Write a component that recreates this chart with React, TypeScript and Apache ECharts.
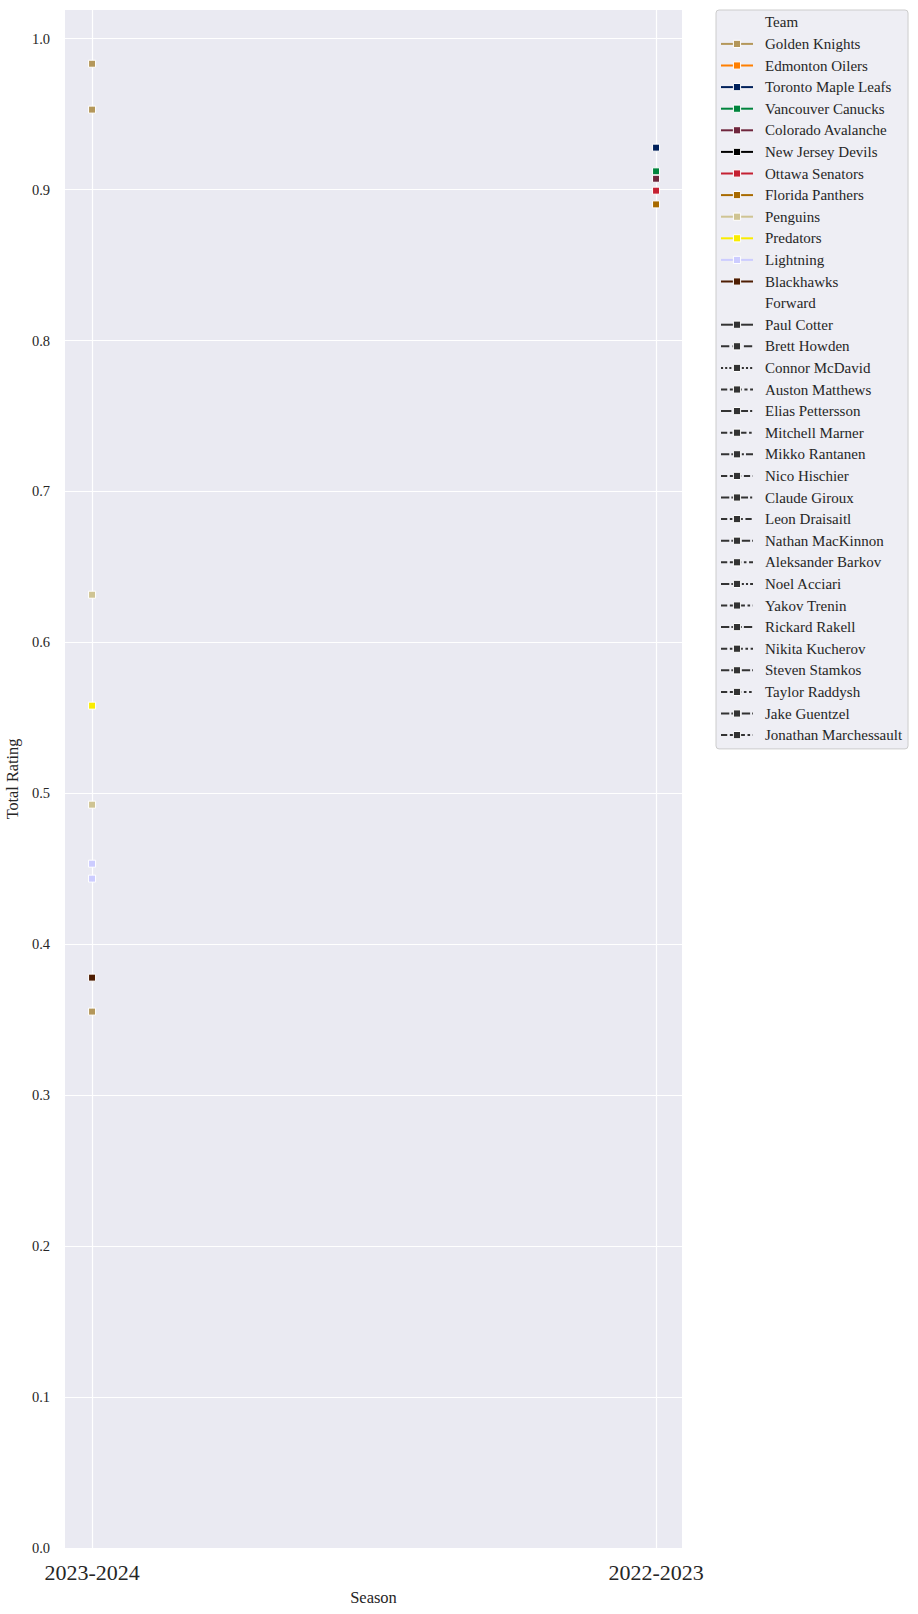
import React, { useEffect, useRef } from 'react';
import * as echarts from 'echarts';

const SEASONS = ['2023-2024', '2022-2023'];

const TEAMS = [
  'Golden Knights',
  'Edmonton Oilers',
  'Toronto Maple Leafs',
  'Vancouver Canucks',
  'Colorado Avalanche',
  'New Jersey Devils',
  'Ottawa Senators',
  'Florida Panthers',
  'Penguins',
  'Predators',
  'Lightning',
  'Blackhawks',
];

const TEAM_COLORS = [
  '#B4975A',
  '#FF7F00',
  '#00205B',
  '#00843D',
  '#6F263D',
  '#000000',
  '#C52032',
  '#A86A00',
  '#CFC493',
  '#F9EC00',
  '#CCCCFF',
  '#4E1D02',
];

const FORWARDS = [
  'Paul Cotter',
  'Brett Howden',
  'Connor McDavid',
  'Auston Matthews',
  'Elias Pettersson',
  'Mitchell Marner',
  'Mikko Rantanen',
  'Nico Hischier',
  'Claude Giroux',
  'Leon Draisaitl',
  'Nathan MacKinnon',
  'Aleksander Barkov',
  'Noel Acciari',
  'Yakov Trenin',
  'Rickard Rakell',
  'Nikita Kucherov',
  'Steven Stamkos',
  'Taylor Raddysh',
  'Jake Guentzel',
  'Jonathan Marchessault',
];

// dash patterns in line-width units (empty = solid)
const FORWARD_DASHES: number[][] = [
  [],
  [4, 1.5],
  [1, 1],
  [3, 1.25, 1.5, 1.25],
  [5, 1, 1, 1],
  [3, 1.25, 1.25, 1.25, 1.25, 1.25],
  [4, 1, 4, 1, 1, 1],
  [3, 1.25, 3, 1.25, 1.25, 1.25],
  [4, 1, 1, 1, 1, 1],
  [3, 1.25, 1.25, 1.25, 1.25, 1.25, 1.25, 1.25],
  [4, 1, 4, 1, 4, 1, 1, 1],
  [3, 1.25, 3, 1.25, 1.25, 1.25, 1.25, 1.25],
  [4, 1, 4, 1, 1, 1, 1, 1],
  [3, 1.25, 3, 1.25, 3, 1.25, 1.25, 1.25],
  [4, 1, 1, 1, 1, 1, 1, 1],
  [3, 1.25, 1.25, 1.25, 1.25, 1.25, 1.25, 1.25, 1.25, 1.25],
  [4, 1, 4, 1, 4, 1, 4, 1, 1, 1],
  [3, 1.25, 3, 1.25, 1.25, 1.25, 1.25, 1.25, 1.25, 1.25],
  [4, 1, 4, 1, 4, 1, 1, 1, 1, 1],
  [3, 1.25, 3, 1.25, 3, 1.25, 1.25, 1.25, 1.25, 1.25],
];

const POINT_FORWARD = [
  'Paul Cotter',
  'Brett Howden',
  'Jonathan Marchessault',
  'Auston Matthews',
  'Elias Pettersson',
  'Mikko Rantanen',
  'Claude Giroux',
  'Aleksander Barkov',
  'Noel Acciari',
  'Yakov Trenin',
  'Rickard Rakell',
  'Nikita Kucherov',
  'Steven Stamkos',
  'Taylor Raddysh',
];
const POINT_TEAM = [
  'Golden Knights',
  'Golden Knights',
  'Golden Knights',
  'Toronto Maple Leafs',
  'Vancouver Canucks',
  'Colorado Avalanche',
  'Ottawa Senators',
  'Florida Panthers',
  'Penguins',
  'Predators',
  'Penguins',
  'Lightning',
  'Lightning',
  'Blackhawks',
];
const POINT_SEASON = [
  '2023-2024',
  '2023-2024',
  '2023-2024',
  '2022-2023',
  '2022-2023',
  '2022-2023',
  '2022-2023',
  '2022-2023',
  '2023-2024',
  '2023-2024',
  '2023-2024',
  '2023-2024',
  '2023-2024',
  '2023-2024',
];
const POINT_RATING = [
  0.9834, 0.953, 0.3554, 0.9278, 0.9121, 0.9072, 0.8993, 0.8902, 0.6316, 0.5581, 0.4925, 0.4534,
  0.4435, 0.3779,
];

const Y_TICKS = [0, 0.1, 0.2, 0.3, 0.4, 0.5, 0.6, 0.7, 0.8, 0.9, 1.0];

export default function App() {
  const ref = useRef<HTMLDivElement>(null);

  useEffect(() => {
    document.body.style.margin = '0';
    const chart = echarts.init(ref.current!, null, { renderer: 'svg' });
    const FONT = "'Liberation Serif', 'Times New Roman', serif";
    const TEXT = '#262626';
    const DASH_UNIT = 2.08;
    const GRAY = '#333333';

    const dashOf = (d: number[]) => (d.length ? d.map((v) => v * DASH_UNIT) : 'solid');

    const teamSeries = TEAMS.map((team, ti) => ({
      name: team,
      type: 'line',
      data: POINT_RATING.map((r, i) =>
        POINT_TEAM[i] === team ? [SEASONS.indexOf(POINT_SEASON[i]), r, POINT_FORWARD[i]] : null
      ).filter((p) => p !== null),
      symbol: 'rect',
      symbolSize: 7,
      showSymbol: true,
      showAllSymbol: true,
      itemStyle: { color: TEAM_COLORS[ti], borderColor: '#ffffff', borderWidth: 1 },
      lineStyle: { color: TEAM_COLORS[ti], width: 2, opacity: 0 },
      emphasis: { disabled: true },
      silent: true,
      z: 3,
    }));

    const headerSeries = ['Team', 'Forward'].map((h) => ({
      name: h,
      type: 'line',
      data: [],
      symbol: 'rect',
      itemStyle: { color: GRAY, opacity: 0 },
      lineStyle: { color: GRAY, opacity: 0 },
    }));

    const forwardSeries = FORWARDS.map((f, fi) => ({
      name: f,
      type: 'line',
      data: [],
      symbol: 'rect',
      itemStyle: { color: GRAY, borderColor: '#ffffff', borderWidth: 1 },
      lineStyle: { color: GRAY, width: 2, type: dashOf(FORWARD_DASHES[fi]) },
    }));

    const hiddenItem = (name: string) => ({
      name,
      itemStyle: { opacity: 0, borderWidth: 0 },
      lineStyle: { opacity: 0, width: 0 },
    });

    const legendData = [
      hiddenItem('Team'),
      ...TEAMS.map((t, i) => ({
        name: t,
        itemStyle: { color: TEAM_COLORS[i], borderColor: '#ffffff', borderWidth: 1, opacity: 1 },
        lineStyle: { color: TEAM_COLORS[i], width: 2, type: 'solid', opacity: 1 },
      })),
      hiddenItem('Forward'),
      ...FORWARDS.map((f, i) => ({
        name: f,
        itemStyle: { color: GRAY, borderColor: '#ffffff', borderWidth: 1, opacity: 1 },
        lineStyle: { color: GRAY, width: 2, type: dashOf(FORWARD_DASHES[i]), opacity: 1 },
      })),
    ];

    chart.setOption({
      animation: false,
      textStyle: { fontFamily: FONT, color: TEXT },
      grid: {
        left: 65,
        top: 10,
        right: 236,
        bottom: 66,
        show: true,
        backgroundColor: '#EAEAF2',
        borderWidth: 0,
        containLabel: false,
        outerBoundsMode: 'none',
      },
      legend: {
        orient: 'vertical',
        left: 716,
        top: 10,
        data: legendData,
        selectedMode: false,
        itemWidth: 32,
        itemHeight: 9,
        itemGap: 0,
        padding: [1.5, 6, 3, 4],
        backgroundColor: '#EEEEF4',
        borderColor: '#CCCCCC',
        borderWidth: 1,
        borderRadius: 3,
        textStyle: {
          fontFamily: FONT,
          fontSize: 15,
          color: TEXT,
          lineHeight: 21.6,
          padding: [0, 0, 0, 7],
        },
      },
      xAxis: {
        type: 'value',
        min: -0.048,
        max: 1.046,
        axisLine: { show: false },
        axisTick: { show: false, customValues: [0, 1] },
        axisLabel: {
          customValues: [0, 1],
          formatter: (v: number) => SEASONS[Math.round(v)] ?? '',
          fontFamily: FONT,
          fontSize: 22,
          color: TEXT,
          margin: 13,
        },
        splitLine: { show: true, lineStyle: { color: '#ffffff', width: 1.2 } },
        name: 'Season',
        nameLocation: 'middle',
        nameGap: 41,
        nameTextStyle: { fontFamily: FONT, fontSize: 16.5, color: TEXT },
      },
      yAxis: {
        type: 'value',
        min: 0,
        max: 1.019,
        axisLine: { show: false },
        axisTick: { show: false, customValues: Y_TICKS },
        axisLabel: {
          customValues: Y_TICKS,
          formatter: (v: number) => v.toFixed(1),
          fontFamily: FONT,
          fontSize: 14.5,
          color: TEXT,
          margin: 15,
        },
        splitLine: { show: true, lineStyle: { color: '#ffffff', width: 1.2 } },
        name: 'Total Rating',
        nameLocation: 'middle',
        nameGap: 41,
        nameTextStyle: { fontFamily: FONT, fontSize: 16.3, color: TEXT },
      },
      series: [...headerSeries, ...teamSeries, ...forwardSeries],
    });

    return () => chart.dispose();
  }, []);

  return <div ref={ref} style={{ width: 918, height: 1614 }} />;
}
